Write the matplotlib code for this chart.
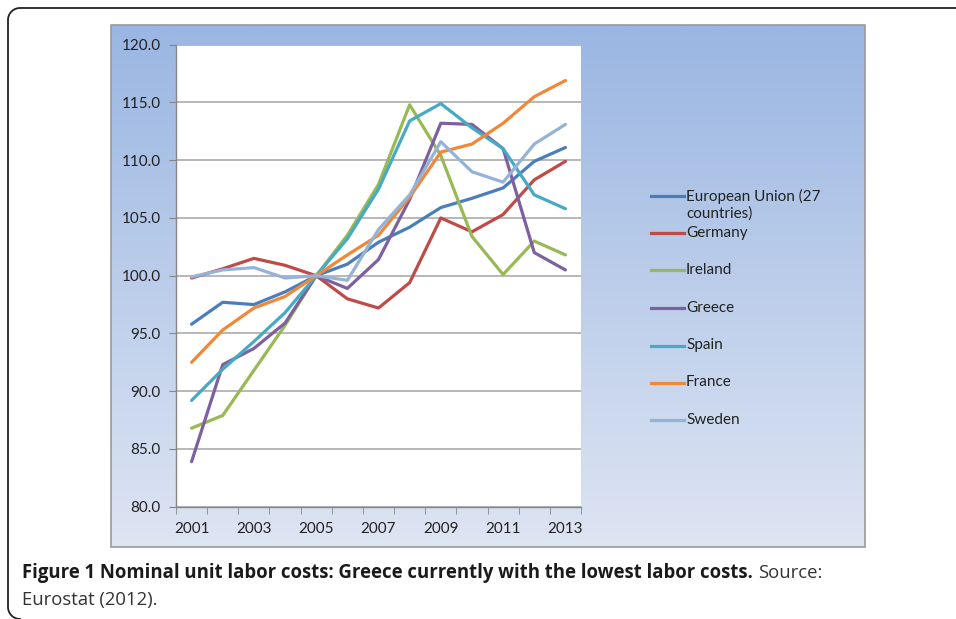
import numpy as np
import matplotlib.pyplot as plt
from matplotlib.patches import Rectangle
from matplotlib.lines import Line2D

# Data (index, 2005 = 100)
years = [2001, 2002, 2003, 2004, 2005, 2006, 2007, 2008, 2009, 2010, 2011, 2012, 2013]
eu      = [95.8, 97.7, 97.5, 98.6, 100.0, 101.0, 102.9, 104.2, 105.9, 106.7, 107.6, 109.9, 111.1]
germany = [99.8, 100.6, 101.5, 100.9, 100.0, 98.0, 97.2, 99.4, 105.0, 103.8, 105.3, 108.3, 109.9]
ireland = [86.8, 87.9, 91.8, 95.7, 100.0, 103.5, 107.9, 114.8, 110.4, 103.4, 100.1, 103.0, 101.8]
greece  = [83.9, 92.3, 93.7, 95.9, 100.0, 98.9, 101.4, 106.6, 113.2, 113.1, 111.0, 102.0, 100.5]
spain   = [89.2, 91.9, 94.3, 96.8, 100.0, 103.2, 107.5, 113.4, 114.9, 112.8, 111.0, 107.0, 105.8]
france  = [92.5, 95.3, 97.2, 98.2, 100.0, 101.8, 103.5, 106.8, 110.7, 111.4, 113.2, 115.5, 116.9]
sweden  = [99.9, 100.5, 100.7, 99.8, 100.0, 99.6, 104.0, 107.0, 111.6, 109.0, 108.1, 111.4, 113.1]

names = ['European Union (27\ncountries)', 'Germany', 'Ireland', 'Greece', 'Spain', 'France', 'Sweden']
series = [eu, germany, ireland, greece, spain, france, sweden]
colors = ['#4A7EBB', '#BE4B48', '#98B954', '#7D60A0', '#46AAC5', '#F0883A', '#95B3D7']

W, H = 956, 619
chart_font = ['Lato', 'DejaVu Sans']
cap_font = ['Open Sans', 'DejaVu Sans']


def fx(x):
    return x / W


def fy(y):
    return 1 - y / H


fig = plt.figure(figsize=(W / 100, H / 100), dpi=100)
fig.patch.set_facecolor('white')

# outer frame: top and left sides with rounded corners, open to the right/bottom
rad = 12
a1 = np.linspace(np.pi / 2, np.pi, 20)
a2 = np.linspace(np.pi, 1.5 * np.pi, 20)
px = np.concatenate([[970], 8 + rad + rad * np.cos(a1), 8 + rad + rad * np.cos(a2)])
py = np.concatenate([[8], 8 + rad - rad * np.sin(a1), 607 - rad * np.sin(a2)])
fig.add_artist(Line2D(px / W, 1 - py / H, transform=fig.transFigure,
                      color='#222222', lw=1.3))

# chart area with vertical gradient
bg = fig.add_axes([fx(111), fy(547), fx(754), fy(25) - fy(547)])
top = np.array([154, 182, 226]) / 255
bot = np.array([222, 229, 243]) / 255
t = np.linspace(0, 1, 256)[:, None]
grad = top[None, :] * (1 - t) + bot[None, :] * t
bg.imshow(grad[:, None, :], aspect='auto', extent=[0, 1, 0, 1])
bg.set_xlim(0, 1)
bg.set_ylim(0, 1)
bg.axis('off')
fig.add_artist(Rectangle((fx(111), fy(547)), fx(754), fy(25) - fy(547),
                         transform=fig.transFigure, fill=False,
                         edgecolor='#9A9A9A', lw=1.2))

# plot area
ax = fig.add_axes([fx(176), fy(506.7), fx(405), fy(44.7) - fy(506.7)])
ax.set_facecolor('white')
x = np.arange(len(years))
for vals, c in zip(series, colors):
    ax.plot(x, vals, color=c, lw=2.3, solid_capstyle='round', solid_joinstyle='round')

ax.set_xlim(-0.5, len(years) - 0.5)
ax.set_ylim(80, 120)
ax.set_yticks(np.arange(80, 121, 5))
ax.set_yticklabels(['%.1f' % v for v in np.arange(80, 121, 5)])
ax.yaxis.grid(True, color='#ABABAB', lw=1.2)
ax.set_axisbelow(True)
ax.set_xticks(x[::2])
ax.set_xticklabels([str(y) for y in years[::2]])
ax.set_xticks(np.arange(-0.5, len(years)), minor=True)
ax.tick_params(axis='x', which='major', length=0, pad=11, labelsize=11, labelcolor='#222222')
ax.tick_params(axis='x', which='minor', length=5, color='#868686', direction='out')
ax.tick_params(axis='y', length=5, color='#868686', direction='out', pad=6,
               labelsize=11, labelcolor='#222222')
for lab in ax.get_xticklabels() + ax.get_yticklabels():
    lab.set_family(chart_font)
for s in ['top', 'right']:
    ax.spines[s].set_visible(False)
for s in ['left', 'bottom']:
    ax.spines[s].set_color('#868686')
    ax.spines[s].set_linewidth(1.0)

# legend, handle lined up with the first text line
leg_y = [196, 233, 270.5, 308, 345.5, 382.5, 420]
for name, c, ly in zip(names, colors, leg_y):
    fig.add_artist(Line2D([fx(651), fx(684)], [fy(ly), fy(ly)],
                          transform=fig.transFigure, color=c, lw=2.3))
    fig.text(fx(686), fy(ly - 7), name, ha='left', va='top', fontsize=11,
             family=chart_font, color='#222222', linespacing=1.2)

# caption
bold = fig.text(fx(22), fy(578), 'Figure 1 Nominal unit labor costs: Greece currently with the lowest labor costs.',
                ha='left', va='baseline', fontsize=12.5, fontweight='bold',
                family=cap_font, color='#1a1a1a')
fig.canvas.draw()
r = fig.canvas.get_renderer()
bb = bold.get_window_extent(r)
scale = (752 - 22) / bb.width
bold.set_fontsize(12.5 * scale)
fig.canvas.draw()
bb = bold.get_window_extent(r)
fig.text(bb.x1 / W + fx(5), fy(578), 'Source:', ha='left', va='baseline',
         fontsize=12.5 * scale, family=cap_font, color='#333333')
fig.text(fx(22), fy(605), 'Eurostat (2012).', ha='left', va='baseline',
         fontsize=12.5 * scale, family=cap_font, color='#333333')

fig.savefig('out.png', dpi=100)
